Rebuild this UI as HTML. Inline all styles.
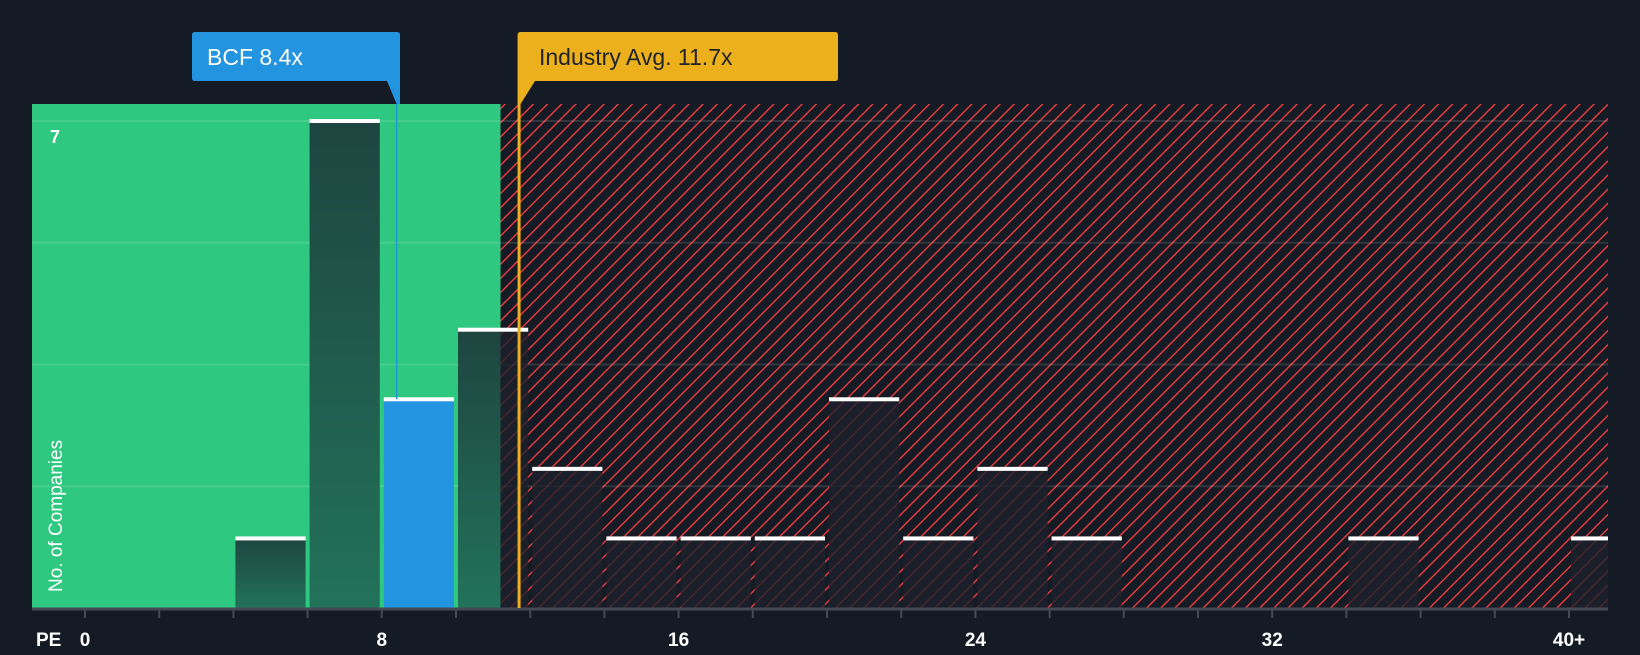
<!DOCTYPE html>
<html><head><meta charset="utf-8"><style>
body{margin:0;background:#151b24;width:1640px;height:650px;overflow:hidden;font-family:"Liberation Sans",sans-serif}
</style></head><body>
<svg id="c" width="1640" height="650" xmlns="http://www.w3.org/2000/svg">
<defs>
<pattern id="hatch" patternUnits="userSpaceOnUse" width="10" height="10" patternTransform="rotate(45)">
<rect width="10" height="10" fill="#151b24"/>
<line x1="0" y1="0" x2="0" y2="10" stroke="#e0393e" stroke-width="3"/>
</pattern>
<linearGradient id="gbar" x1="0" y1="0" x2="0" y2="1"><stop offset="0" stop-color="#1e4540"/><stop offset="1" stop-color="#22725a"/></linearGradient>
</defs>
</svg>
<script>
const bins=[4,6,8,10,12,14,16,18,20,22,24,26,28,30,32,34,36,38,40];
const counts=[1,7,3,4,2,1,1,1,3,1,2,1,0,0,0,1,0,0,1];
const tickLabels=["0","8","16","24","32","40+"];
const tickValues=[0,8,16,24,32,40];
const companyPE=8.4, industryPE=11.7, greenEnd=11.2, yMax=7;
const L=32,R=1608,T=104,B=608;
const x=v=>85+v*37.1;
const y=v=>B-v*(B-121)/yMax;
const s=document.getElementById('c');
const NS="http://www.w3.org/2000/svg";
function mk(t,a,p){const e=document.createElementNS(NS,t);for(const k in a)e.setAttribute(k,a[k]);(p||s).appendChild(e);return e;}
let e;
const gx=x(greenEnd);
e=mk('rect',{x:L,y:T,width:gx-L,height:B-T,fill:'#2ec880'});

e=mk('rect',{x:gx,y:T,width:R-gx,height:B-T,fill:'url(#hatch)'});

for(let i=1;i<=4;i++){const gy=y(yMax*i/4);e=mk('line',{x1:L,x2:R,y1:gy,y2:gy,stroke:'rgba(255,255,255,0.12)','stroke-width':2});
}
bins.forEach((b,i)=>{const c=counts[i];if(!c)return;
 const x0=x(b)+2,x1=Math.min(x(b+2)-2,R),top=y(c);
 if(b===8){
  e=mk('rect',{x:x0,y:top,width:x1-x0,height:B-top,fill:'#2394e0'});
 } else {
  const g0=x0,g1=Math.min(x1,gx);
  if(g1>g0){e=mk('rect',{x:g0,y:top,width:g1-g0,height:B-top,fill:'url(#gbar)'});
   }
  const h0=Math.max(x0,gx);
  if(x1>h0){e=mk('rect',{x:h0,y:top,width:x1-h0,height:B-top,fill:'rgba(28,32,44,0.78)'});}
 }
 
 e=mk('rect',{x:x0,y:top-2,width:x1-x0,height:4,fill:'#fff'});
 
});
e=mk('line',{x1:L,x2:R,y1:B+1,y2:B+1,stroke:'#444a55','stroke-width':3});

for(let v=0;v<=40;v+=2){e=mk('line',{x1:x(v),x2:x(v),y1:B,y2:B+10,stroke:'#444a55','stroke-width':2});
}
tickValues.forEach((v,i)=>{e=mk('text',{x:x(v),y:646,fill:'#fff','font-size':19,'font-weight':'bold','text-anchor':'middle'});e.textContent=tickLabels[i];
});
e=mk('text',{x:36,y:646,fill:'#fff','font-size':19,'font-weight':'bold'});e.textContent='PE';

e=mk('text',{x:50,y:143,fill:'#fff','font-size':18,'font-weight':'bold'});e.textContent='7';

e=mk('text',{x:0,y:0,fill:'#fff','font-size':19,transform:'translate(62,592) rotate(-90)'});e.textContent='No. of Companies';

const bx=x(companyPE);
e=mk('line',{x1:bx,x2:bx,y1:T,y2:y(3),stroke:'#2394e0','stroke-width':1.5});

e=mk('path',{d:`M192 35 Q192 32 195 32 L397 32 Q400 32 400 35 L400 104 L${bx} 104 L387 81 L195 81 Q192 81 192 78 Z`,fill:'#2394e0'});

e=mk('text',{x:207,y:65,fill:'#fff','font-size':23});e.textContent='BCF 8.4x';

const ix=x(industryPE);
e=mk('line',{x1:ix,x2:ix,y1:T,y2:B,stroke:'#ecb01d','stroke-width':3});

e=mk('path',{d:`M${ix-1.5} 35 Q${ix-1.5} 32 ${ix+1.5} 32 L835 32 Q838 32 838 35 L838 78 Q838 81 835 81 L535 81 L${ix+1.5} 104 L${ix-1.5} 104 Z`,fill:'#ecb01d'});

e=mk('text',{x:539,y:65,fill:'#1e222a','font-size':23});e.textContent='Industry Avg. 11.7x';

</script>
</body></html>
